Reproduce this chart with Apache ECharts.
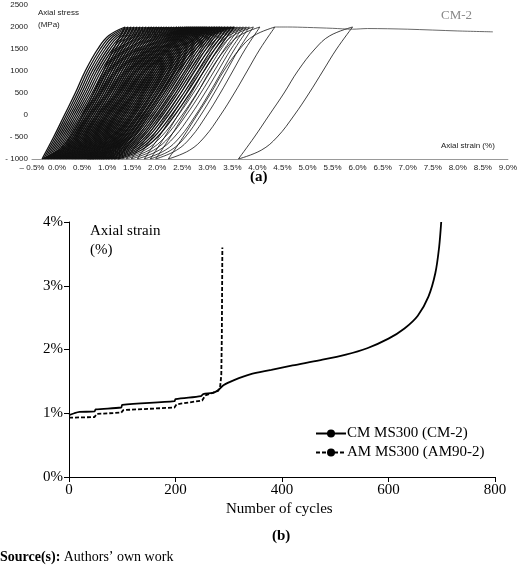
<!DOCTYPE html><html><head><meta charset="utf-8"><script src="https://cdn.jsdelivr.net/npm/echarts@6/dist/echarts.min.js"></script>
<style>html,body{margin:0;background:#fff}#c{width:520px;height:568px}</style></head><body><div id="c"></div><script>
// Panel (a): hysteresis loops, bottom (at -1000 MPa) and top (at 2000 MPa) strains (%)
const loopBottom=[-0.30,-0.27,-0.24,-0.21,-0.18,-0.15,-0.12,-0.09,-0.06,-0.03,0.00,0.03,0.06,0.09,0.12,0.15,0.18,0.21,0.24,0.27,0.30,0.33,0.36,0.39,0.42,0.45,0.48,0.51,0.54,0.57,0.60,0.63,0.66,0.69,0.72,0.76,0.80,0.84,0.88,0.92,0.97,1.02,1.08,1.14,1.21,1.29,1.38,1.48,1.60,1.74,1.86,1.97,2.22,3.62];
const loopTop=[1.36,1.42,1.48,1.54,1.60,1.66,1.72,1.78,1.84,1.89,1.94,1.99,2.04,2.09,2.14,2.19,2.24,2.29,2.34,2.39,2.44,2.48,2.52,2.56,2.60,2.64,2.68,2.72,2.76,2.80,2.84,2.88,2.92,2.96,3.00,3.05,3.10,3.15,3.20,3.25,3.30,3.36,3.42,3.48,3.54,3.60,3.66,3.72,3.78,3.84,3.92,4.05,4.35,5.90];
// loop shape: stress levels and position fraction between bottom and top strain
const upStress=[-1000,-500,0,500,1000,1500,1800,2000];
const upFrac=[0,0.14,0.27,0.4,0.52,0.67,0.8,1];
const downStress=[2000,1500,1000,500,0,-500,-800,-1000];
const downFrac=[1,0.86,0.74,0.62,0.49,0.34,0.2,0];
const plateau=[[4.35,2000],[4.6,2000],[5.0,1990],[5.5,1970],[5.9,1950],[6.2,1965],[7.0,1950],[8.0,1910],[8.7,1890]];
// Panel (b)
const cmCycles=[0,10,20,48,50,98,100,198,200,248,252,270,280,290,310,340,380,420,470,520,560,600,630,655,675,688,695,699];
const cmStrain=[0.97,1.0,1.02,1.03,1.06,1.09,1.13,1.19,1.22,1.27,1.3,1.32,1.36,1.44,1.52,1.61,1.68,1.75,1.83,1.92,2.02,2.17,2.33,2.53,2.83,3.2,3.6,4.0];
const amCycles=[0,48,52,98,102,198,202,250,256,270,280,284,286,287,288];
const amStrain=[0.93,0.94,0.99,1.01,1.05,1.09,1.14,1.2,1.28,1.32,1.35,1.43,1.6,2.2,3.6];

const series=[];
loopBottom.forEach((b,i)=>{
  const t=loopTop[i],d=[];
  upStress.forEach((s,k)=>d.push([b+(t-b)*upFrac[k],s]));
  downStress.forEach((s,k)=>d.push([b+(t-b)*downFrac[k],s]));
  series.push({type:'line',xAxisIndex:0,yAxisIndex:0,data:d,smooth:0.4,symbol:'none',color:'#111',lineStyle:{color:'#111',width:i<45?1.3:0.8},silent:true});
});
series.push({type:'line',xAxisIndex:0,yAxisIndex:0,data:plateau,smooth:0.3,symbol:'none',color:'#444',lineStyle:{color:'#444',width:0.8}});
series.push({name:'CM MS300 (CM-2)',type:'line',xAxisIndex:1,yAxisIndex:1,data:cmCycles.map((c,i)=>[c,cmStrain[i]]),smooth:0.3,symbol:'none',color:'#000',lineStyle:{color:'#000',width:1.8}});
series.push({name:'AM MS300 (AM90-2)',type:'line',xAxisIndex:1,yAxisIndex:1,data:amCycles.map((c,i)=>[c,amStrain[i]]),symbol:'none',color:'#000',lineStyle:{color:'#000',width:1.8,type:[4,2]}});

const serif='Liberation Serif',sans='Liberation Sans';
const chart=echarts.init(document.getElementById('c'));
chart.setOption({
  animation:false,
  grid:[{left:32,right:10,top:5,height:154},{left:69,right:25,top:222,height:255}],
  xAxis:[
    {gridIndex:0,type:'value',min:-0.5,max:9,interval:0.5,axisLine:{onZero:false,lineStyle:{color:'#999'}},axisTick:{show:false},splitLine:{show:false},
     axisLabel:{fontFamily:sans,fontSize:8,color:'#222',margin:5,formatter:v=>(v<0?'– ':'')+Math.abs(v).toFixed(1)+'%'}},
    {gridIndex:1,type:'value',min:0,max:800,interval:200,axisLine:{lineStyle:{color:'#000'}},axisTick:{show:true,length:5,lineStyle:{color:'#000'}},splitLine:{show:false},
     axisLabel:{fontFamily:serif,fontSize:15,color:'#000',margin:6}}
  ],
  yAxis:[
    {gridIndex:0,type:'value',min:-1000,max:2500,interval:500,axisLine:{show:false},axisTick:{show:false},splitLine:{show:false},
     axisLabel:{fontFamily:sans,fontSize:8,color:'#222',margin:4,formatter:v=>v<0?'- '+(-v):''+v}},
    {gridIndex:1,type:'value',min:0,max:4,interval:1,axisLine:{show:true,lineStyle:{color:'#000'}},axisTick:{show:true,length:5,lineStyle:{color:'#000'}},splitLine:{show:false},
     axisLabel:{fontFamily:serif,fontSize:15,color:'#000',margin:6,formatter:v=>v+'%'}}
  ],
  legend:{data:['CM MS300 (CM-2)','AM MS300 (AM90-2)'],orient:'vertical',left:310,top:421,itemWidth:30,itemHeight:10,itemGap:4,
    textStyle:{fontFamily:serif,fontSize:15,color:'#000',padding:[0,0,0,-4]}},
  graphic:[
    {type:'text',left:38,top:7,style:{text:'Axial stress\n(MPa)',font:'8px '+sans,fill:'#222',lineHeight:12}},
    {type:'text',left:441,top:142,style:{text:'Axial strain (%)',font:'8px '+sans,fill:'#222'}},
    {type:'text',left:441,top:9,style:{text:'CM-2',font:'13px '+serif,fill:'#888'}},
    {type:'text',left:250,top:170,style:{text:'(a)',font:'bold 15px '+serif,fill:'#000'}},
    {type:'text',left:90,top:222,style:{text:'Axial strain\n(%)',font:'15px '+serif,fill:'#000',align:'center',lineHeight:19}},
    {type:'text',left:226,top:502,style:{text:'Number of cycles',font:'15px '+serif,fill:'#000'}},
    {type:'text',left:272,top:529,style:{text:'(b)',font:'bold 15px '+serif,fill:'#000'}},
    {type:'text',left:0,top:550,style:{rich:{b:{font:'bold 14px '+serif,fill:'#000'},n:{font:'14px '+serif,fill:'#000'}},text:'{b|Source(s):} {n|Authors’ own work}'}}
  ],
  series
});
</script></body></html>
